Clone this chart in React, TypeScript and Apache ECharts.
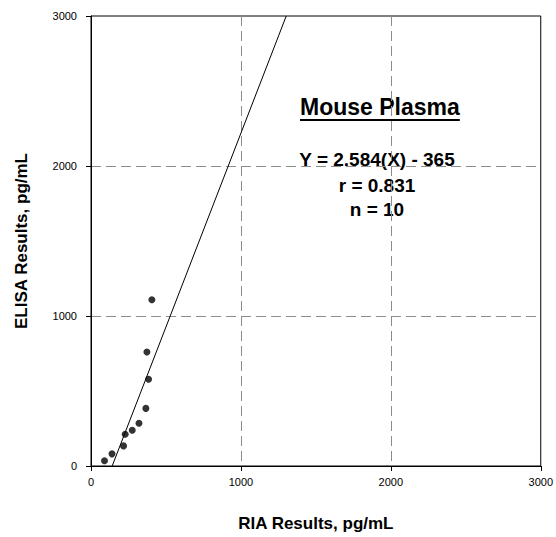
import React, { useEffect, useRef } from "react";
import * as echarts from "echarts";

const ria = [90, 140, 217, 228, 275, 320, 366, 384, 373, 406];
const elisa = [35, 81, 134, 212, 238, 285, 384, 578, 760, 1108];
const slope = 2.584;
const intercept = -365;
const axisMin = 0;
const axisMax = 3000;
const axisStep = 1000;
const titleText = "Mouse Plasma";
const statLines = ["Y = 2.584(X) - 365", "r = 0.831", "n = 10"];
const xTitle = "RIA Results, pg/mL";
const yTitle = "ELISA Results, pg/mL";

const FONT = "'Liberation Sans', Arial, sans-serif";

function measure(text: string, font: string): number {
  const c = document.createElement("canvas");
  const ctx = c.getContext("2d");
  if (!ctx) return text.length * 12;
  ctx.font = font;
  return ctx.measureText(text).width;
}

export default function App() {
  const ref = useRef<HTMLDivElement>(null);
  useEffect(() => {
    if (!ref.current) return;
    const chart = echarts.init(ref.current, undefined, { renderer: "svg" });
    const points = ria.map((x, i) => [x, elisa[i]]);
    const fitLine = [
      [(axisMin - intercept) / slope, axisMin],
      [(axisMax - intercept) / slope, axisMax],
    ];
    const titleSize = 23;
    const titleX = 300;
    const titleW = measure(titleText, `bold ${titleSize}px 'Liberation Sans'`);
    const statCx = 377;
    const statYs = [159.5, 185, 209];

    const axisCommon = {
      type: "value" as const,
      min: axisMin,
      max: axisMax,
      interval: axisStep,
      axisLine: { show: true, lineStyle: { color: "#000", width: 1 } },
      axisTick: { show: true, inside: false, length: 5, lineStyle: { color: "#000" } },
      splitLine: {
        show: true,
        showMinLine: false,
        showMaxLine: false,
        lineStyle: { color: "#8c8c8c", type: [10, 5] as any, width: 1 },
      },
      nameLocation: "middle" as const,
      nameTextStyle: { fontFamily: FONT, fontSize: 17, fontWeight: "bold" as const, color: "#000" },
    };

    chart.setOption({
      animation: false,
      backgroundColor: "#fff",
      grid: {
        left: 91,
        right: 15,
        top: 16,
        bottom: 68,
        show: true,
        borderColor: "#000",
        borderWidth: 1,
        backgroundColor: "transparent",
      },
      xAxis: {
        ...axisCommon,
        name: xTitle,
        nameGap: 49,
        axisLabel: {
          fontFamily: FONT,
          fontSize: 11,
          color: "#000",
          margin: 10,
          formatter: (v: number) => String(v),
        },
      },
      yAxis: {
        ...axisCommon,
        name: yTitle,
        nameGap: 61,
        axisLabel: {
          fontFamily: FONT,
          fontSize: 11,
          color: "#000",
          margin: 14,
          formatter: (v: number) => String(v),
        },
      },
      series: [
        {
          type: "line",
          data: fitLine,
          showSymbol: false,
          symbol: "none",
          lineStyle: { color: "#000", width: 1 },
          clip: true,
          silent: true,
          z: 2,
        },
        {
          type: "scatter",
          data: points,
          symbol: "circle",
          symbolSize: 7,
          itemStyle: { color: "#000" },
          z: 3,
        },
      ],
      graphic: [
        {
          type: "text",
          x: titleX,
          y: 107,
          style: {
            text: titleText,
            fontFamily: FONT,
            fontSize: titleSize,
            fontWeight: "bold",
            fill: "#000",
            textAlign: "left",
            textVerticalAlign: "middle",
            align: "left",
            verticalAlign: "middle",
          },
        },
        {
          type: "line",
          shape: { x1: titleX, y1: 120, x2: titleX + titleW, y2: 120 },
          style: { stroke: "#000", lineWidth: 2 },
        },
        ...statLines.map((t, i) => ({
          type: "text",
          x: statCx,
          y: statYs[i],
          style: {
            text: t,
            fontFamily: FONT,
            fontSize: 19,
            fontWeight: "bold",
            fill: "#000",
            textAlign: "center",
            textVerticalAlign: "middle",
            align: "center",
            verticalAlign: "middle",
          },
        })),
      ],
    });
    return () => chart.dispose();
  }, []);
  return (
    <div
      ref={ref}
      style={{ position: "fixed", left: 0, top: 0, width: 556, height: 537, background: "#fff" }}
    />
  );
}
